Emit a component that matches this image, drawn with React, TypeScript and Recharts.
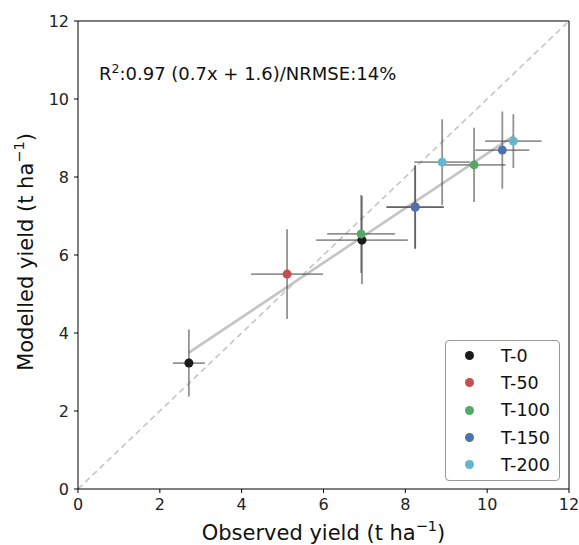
import { ScatterChart, Scatter, XAxis, YAxis, ErrorBar, ReferenceLine } from "recharts";

// treatments and their two site values each
const treatments = ["T-0", "T-50", "T-100", "T-150", "T-200"];
const colors = ["#1b1b1b", "#c44e52", "#55a868", "#4c72b0", "#64b5cd"];
const observed = [
  [2.71, 6.94],
  [5.11, 8.24],
  [6.92, 9.68],
  [8.24, 10.37],
  [8.9, 10.64],
];
const modelled = [
  [3.23, 6.38],
  [5.51, 7.23],
  [6.54, 8.31],
  [7.23, 8.69],
  [8.38, 8.92],
];
const observedErr = [
  [0.39, 1.12],
  [0.88, 0.7],
  [0.83, 0.77],
  [0.7, 0.66],
  [0.68, 0.69],
];
const modelledErr = [
  [0.86, 1.13],
  [1.15, 1.05],
  [1.0, 0.95],
  [1.08, 0.99],
  [1.1, 0.69],
];
const axisTicks = [0, 2, 4, 6, 8, 10, 12];
const fitSlope = 0.7;
const fitIntercept = 1.6;
const fitRange = [2.71, 10.64];

const font = "'DejaVu Sans', sans-serif";
const W = 579;
const H = 545;

const series = treatments.map((name, i) => ({
  name,
  color: colors[i],
  data: observed[i].map((x, j) => ({
    x,
    y: modelled[i][j],
    xErr: observedErr[i][j],
    yErr: modelledErr[i][j],
  })),
}));

const tickStyle = { fill: "#222", fontSize: 16, fontFamily: font };

export default function App() {
  return (
    <div style={{ position: "absolute", left: 0, top: 0, width: W, height: H, background: "#fff", fontFamily: font }}>
      <ScatterChart width={W} height={H} margin={{ top: 21, right: 10, left: 30, bottom: 26 }}>
        <XAxis
          type="number"
          dataKey="x"
          domain={[0, 12]}
          ticks={axisTicks}
          allowDataOverflow
          height={30}
          tickSize={4}
          tickMargin={6}
          stroke="#000"
          tick={tickStyle}
        />
        <YAxis
          type="number"
          dataKey="y"
          domain={[0, 12]}
          ticks={axisTicks}
          allowDataOverflow
          width={48}
          tickSize={4}
          tickMargin={5}
          stroke="#000"
          tick={tickStyle}
        />
        <ReferenceLine
          segment={[{ x: 0, y: 0 }, { x: 12, y: 12 }]}
          stroke="#c8c8c8"
          strokeWidth={1.7}
          strokeDasharray="6 4"
        />
        <ReferenceLine
          segment={[
            { x: fitRange[0], y: fitSlope * fitRange[0] + fitIntercept },
            { x: fitRange[1], y: fitSlope * fitRange[1] + fitIntercept },
          ]}
          stroke="#c4c4c4"
          strokeWidth={2.6}
        />
        <ReferenceLine y={12} stroke="#000" />
        <ReferenceLine x={12} stroke="#000" />
        {series.map((s) => (
          <Scatter
            key={s.name}
            name={s.name}
            data={s.data}
            isAnimationActive={false}
            shape={(p: any) => <circle cx={p.cx} cy={p.cy} r={4.5} fill={s.color} />}
          >
            <ErrorBar dataKey="xErr" direction="x" width={0} stroke="#4a4a4a" strokeOpacity={0.6} strokeWidth={1.8} />
            <ErrorBar dataKey="yErr" direction="y" width={0} stroke="#4a4a4a" strokeOpacity={0.6} strokeWidth={1.8} />
          </Scatter>
        ))}
      </ScatterChart>

      <svg width={W} height={H} style={{ position: "absolute", left: 0, top: 0, pointerEvents: "none" }}>
        <text x={99} y={80} fontSize={18} fill="#111" fontFamily={font}>
          R<tspan dy={-7} fontSize={12.5}>2</tspan>
          <tspan dy={7}>:0.97 (0.7x + 1.6)/NRMSE:14%</tspan>
        </text>
        <text x={323.5} y={540} fontSize={21} fill="#111" textAnchor="middle" fontFamily={font}>
          Observed yield (t ha<tspan dy={-9} fontSize={14.5}>−1</tspan>
          <tspan dy={9}>)</tspan>
        </text>
        <text
          transform="translate(33 252) rotate(-90)"
          fontSize={21}
          fill="#111"
          textAnchor="middle"
          fontFamily={font}
        >
          Modelled yield (t ha<tspan dy={-9} fontSize={14.5}>−1</tspan>
          <tspan dy={9}>)</tspan>
        </text>
      </svg>

      <div
        style={{
          position: "absolute",
          left: 445,
          top: 340,
          width: 115,
          height: 141,
          border: "1px solid #999",
          borderRadius: 4,
          background: "rgba(255,255,255,0.8)",
          boxSizing: "border-box",
          paddingTop: 1,
        }}
      >
        {series.map((s) => (
          <div key={s.name} style={{ display: "flex", alignItems: "center", height: 27.3, fontSize: 17.5, color: "#111" }}>
            <span
              style={{ display: "inline-block", width: 9, height: 9, borderRadius: "50%", background: s.color, marginLeft: 19 }}
            />
            <span style={{ marginLeft: 27 }}>{s.name}</span>
          </div>
        ))}
      </div>
    </div>
  );
}
